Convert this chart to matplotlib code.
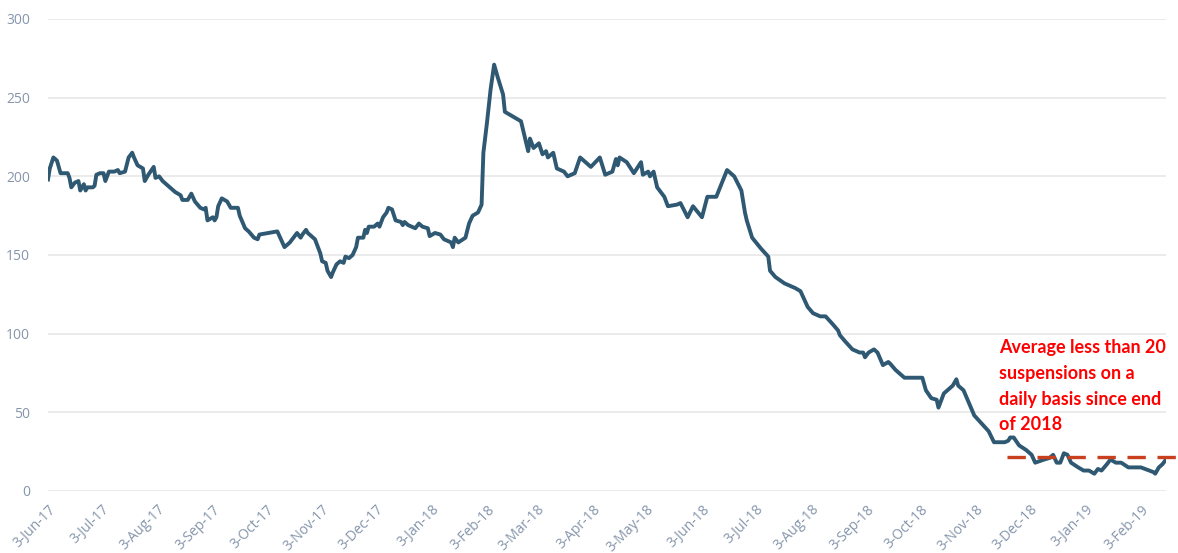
import matplotlib
matplotlib.use("Agg")
import matplotlib.pyplot as plt
import pandas as pd

# days elapsed since 3-Jun-17 and the number of suspensions on that day
day_offset = [0, 1, 3, 5, 6, 7, 11, 12, 13, 15, 17, 18, 20, 21, 22, 25, 26, 27, 29, 31,
              32, 34, 37, 39, 40, 43, 45, 47, 48, 50, 53, 54, 56, 59, 60, 62, 64, 68, 71, 74,
              75, 78, 80, 82, 85, 87, 88, 89, 92, 93, 94, 95, 97, 100, 102, 106, 107, 110, 112, 115,
              117, 118, 128, 130, 132, 135, 137, 139, 141, 142, 144, 145, 149, 152, 153, 155, 156, 158, 159, 161,
              163, 165, 166, 168, 170, 172, 173, 176, 177, 178, 179, 182, 184, 185, 187, 189, 190, 192, 194, 197,
              198, 199, 201, 203, 205, 207, 209, 212, 213, 216, 219, 221, 225, 226, 227, 229, 233, 235, 237, 240,
              242, 243, 245, 247, 249, 251, 254, 255, 264, 268, 269, 271, 274, 276, 278, 279, 282, 284, 288, 290,
              294, 297, 303, 308, 311, 315, 317, 318, 319, 323, 327, 331, 332, 335, 336, 338, 340, 344, 346, 351,
              353, 357, 360, 365, 368, 373, 379, 383, 387, 389, 390, 393, 398, 402, 403, 406, 411, 417, 420, 424,
              427, 431, 434, 438, 441, 442, 445, 449, 453, 455, 456, 458, 461, 463, 466, 469, 470, 473, 478, 488,
              490, 493, 496, 497, 500, 502, 505, 507, 508, 511, 514, 517, 521, 525, 528, 532, 534, 536, 537, 539,
              542, 546, 549, 551, 556, 559, 561, 563, 565, 567, 569, 571, 575, 578, 581, 584, 586, 588, 591, 593,
              596, 599, 603, 610, 617, 618, 620, 622, 624]
suspensions = [198, 205, 212, 210, 206, 202, 202, 199, 193, 196, 197, 191, 195, 191, 193, 193, 194, 201, 202, 202,
               197, 203, 203, 204, 202, 203, 212, 215, 212, 207, 205, 197, 201, 206, 199, 200, 197, 193, 190, 188,
               185, 185, 189, 184, 180, 179, 180, 172, 174, 172, 174, 181, 186, 184, 180, 180, 175, 167, 165, 161,
               160, 163, 165, 160, 155, 158, 161, 164, 161, 163, 166, 164, 160, 151, 146, 145, 140, 136, 139, 144,
               146, 145, 149, 148, 150, 155, 161, 161, 166, 164, 168, 168, 170, 168, 174, 177, 180, 179, 172, 171,
               169, 171, 169, 168, 167, 170, 168, 167, 162, 164, 163, 160, 158, 155, 161, 158, 161, 170, 175, 177,
               182, 215, 234, 255, 271, 263, 252, 241, 235, 216, 224, 218, 221, 214, 216, 212, 215, 205, 203, 200,
               202, 212, 206, 212, 201, 203, 211, 207, 212, 209, 202, 209, 201, 203, 200, 203, 193, 187, 181, 182,
               183, 174, 181, 174, 187, 187, 204, 200, 191, 177, 172, 161, 154, 149, 140, 136, 132, 129, 127, 117,
               113, 111, 111, 106, 102, 99, 95, 90, 88, 88, 85, 88, 90, 88, 80, 82, 81, 77, 72, 72,
               64, 59, 58, 53, 62, 64, 67, 71, 67, 64, 56, 48, 43, 38, 31, 31, 31, 32, 34, 34,
               29, 26, 23, 18, 20, 21, 23, 18, 18, 24, 23, 18, 15, 13, 13, 11, 14, 13, 17, 20,
               18, 18, 15, 15, 12, 11, 15, 17, 20]

start = pd.Timestamp("2017-06-03")
end = pd.Timestamp("2019-02-17")
dates = start + pd.to_timedelta(day_offset, unit="D")

# average level drawn across the last stretch
avg_level = 21.5
avg_start = pd.Timestamp("2018-11-20")
avg_end = pd.Timestamp("2019-02-24")

note = "Average less than 20\nsuspensions on a\ndaily basis since end\nof 2018"

tick_dates = pd.date_range("2017-06-01", "2019-02-01", freq="MS") + pd.Timedelta(days=2)
tick_labels = [f"{d.day}-{d:%b-%y}" for d in tick_dates]

fig = plt.figure(figsize=(11.78, 5.53), dpi=100)
ax = fig.add_axes([48 / 1178, 1 - 491 / 553, 1118 / 1178, 472 / 553])

ax.plot(dates, suspensions, color="#2F5872", linewidth=2.8,
        solid_joinstyle="round", zorder=3)
ax.plot([avg_start, avg_end], [avg_level, avg_level], color="#C8401E",
        linewidth=2.4, dashes=(5.5, 3.5), clip_on=False, zorder=4)
ax.text(pd.Timestamp("2018-11-16"), 96.5, note, color="#FF0000",
        fontsize=13, fontweight="bold", family="Lato",
        va="top", ha="left", linespacing=1.62)

ax.set_xlim(start, end)
ax.set_ylim(0, 300)
ax.set_yticks(range(0, 301, 50))
ax.set_xticks(tick_dates)
ax.set_xticklabels(tick_labels, rotation=45, ha="right",
                   rotation_mode="anchor")
ax.tick_params(axis="both", length=0, labelsize=10, labelcolor="#8595AB")
ax.tick_params(axis="x", pad=8)
ax.tick_params(axis="y", pad=13)
for lab in ax.get_xticklabels() + ax.get_yticklabels():
    lab.set_family("Open Sans")
ax.grid(axis="y", color="#E9E9E9", linewidth=1.3)
ax.set_axisbelow(True)
for side in ax.spines:
    ax.spines[side].set_visible(False)

fig.savefig("out.png", dpi=100)
